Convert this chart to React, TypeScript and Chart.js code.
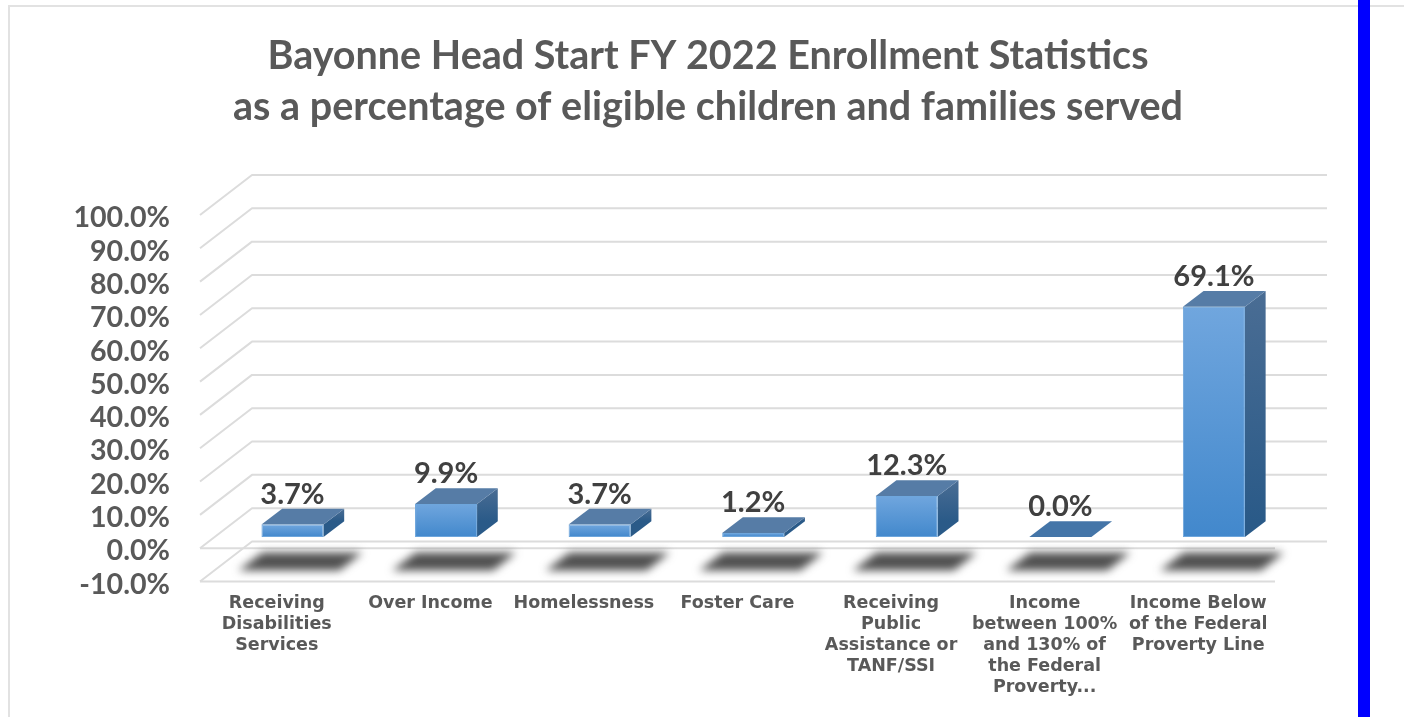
import React, { useEffect, useRef } from "react";
import { Chart, registerables } from "chart.js";

Chart.register(...registerables);

const titleLines = [
  "Bayonne Head Start FY 2022 Enrollment Statistics",
  "as a percentage of eligible children and families served",
];
const categories = [
  ["Receiving", "Disabilities", "Services"],
  ["Over Income"],
  ["Homelessness"],
  ["Foster Care"],
  ["Receiving", "Public", "Assistance or", "TANF/SSI"],
  ["Income", "between 100%", "and 130% of", "the Federal", "Proverty..."],
  ["Income Below", "of the Federal", "Proverty Line"],
];
const values = [3.7, 9.9, 3.7, 1.2, 12.3, 0.0, 69.1];
const axisMin = -10;
const axisMax = 100;
const axisStep = 10;

// plot geometry (styling only)
const WALL_DX = 52;
const WALL_DY = -40;
const BAR_DX = 15.7;
const BAR_DY = -11.3;
const BOX_DX = 20.7;
const BOX_DY = -15.7;
const GRID = "#dcdcdc";
const Y_LABEL_NUDGE = 3;

function verticalGradient(ctx: CanvasRenderingContext2D, y0: number, y1: number, c0: string, c1: string) {
  const g = ctx.createLinearGradient(0, y0, 0, Math.max(y1, y0 + 1));
  g.addColorStop(0, c0);
  g.addColorStop(1, c1);
  return g;
}

const scenePlugin = {
  id: "scene3d",
  beforeDatasetsDraw(chart: any) {
    const { ctx, chartArea, scales } = chart;
    const y = scales.y;
    const { left, right } = chartArea;

    // walls and floors
    ctx.save();
    ctx.strokeStyle = GRID;
    ctx.lineWidth = 2;
    ctx.lineJoin = "round";
    y.ticks.forEach((t: any) => {
      const py = y.getPixelForValue(t.value);
      ctx.beginPath();
      ctx.moveTo(left, py);
      ctx.lineTo(left + WALL_DX, py + WALL_DY);
      ctx.lineTo(right + WALL_DX, py + WALL_DY);
      ctx.stroke();
      if (t.value <= 0) {
        ctx.beginPath();
        ctx.moveTo(left, py);
        ctx.lineTo(right, py);
        ctx.stroke();
      }
    });
    ctx.restore();

    // floor shadows
    const meta = chart.getDatasetMeta(0);
    const floorY = y.getPixelForValue(axisMin);
    ctx.save();
    ctx.filter = "blur(4px)";
    ctx.fillStyle = "#505050";
    meta.data.forEach((bar: any) => {
      const cx = bar.x + BAR_DX;
      const t = floorY - 29;
      const b = floorY - 11;
      ctx.beginPath();
      ctx.moveTo(cx - 30, t);
      ctx.lineTo(cx + 70, t);
      ctx.lineTo(cx + 47, b);
      ctx.lineTo(cx - 54, b);
      ctx.closePath();
      ctx.fill();
    });
    ctx.restore();

    // move the bars onto their depth plane, add the top and side faces
    ctx.save();
    ctx.translate(BAR_DX, BAR_DY);
    meta.data.forEach((bar: any, i: number) => {
      const l = bar.x - bar.width / 2;
      const r = bar.x + bar.width / 2;
      const top = bar.y;
      const base = bar.base;
      if (values[i] > 0) {
        ctx.fillStyle = verticalGradient(ctx, top + BOX_DY, base + BOX_DY, "#4a6d94", "#2a5a88");
        ctx.beginPath();
        ctx.moveTo(r, top);
        ctx.lineTo(r + BOX_DX, top + BOX_DY);
        ctx.lineTo(r + BOX_DX, base + BOX_DY);
        ctx.lineTo(r, base);
        ctx.closePath();
        ctx.fill();
      }
      ctx.fillStyle = values[i] > 0 ? "#567ca6" : "#4475a8";
      ctx.beginPath();
      ctx.moveTo(l, top);
      ctx.lineTo(l + BOX_DX, top + BOX_DY);
      ctx.lineTo(r + BOX_DX, top + BOX_DY);
      ctx.lineTo(r, top);
      ctx.closePath();
      ctx.fill();
    });
  },
  afterDatasetsDraw(chart: any) {
    const { ctx } = chart;
    ctx.restore();
    const meta = chart.getDatasetMeta(0);
    ctx.save();
    ctx.font = "bold 29px Lato";
    ctx.fillStyle = "#404040";
    ctx.textAlign = "center";
    ctx.textBaseline = "middle";
    meta.data.forEach((bar: any, i: number) => {
      ctx.fillText(values[i].toFixed(1) + "%", bar.x + BAR_DX, bar.y + BAR_DY - 30);
    });
    ctx.restore();
  },
};

export default function App() {
  const ref = useRef<HTMLCanvasElement>(null);
  useEffect(() => {
    const chart = new Chart(ref.current!, {
      type: "bar",
      data: {
        labels: categories,
        datasets: [
          {
            label: "Enrollment",
            data: values,
            barPercentage: 0.404,
            categoryPercentage: 1,
            clip: false,
            borderWidth: 1,
            borderSkipped: false,
            borderColor: "#6ea6dc",
            backgroundColor: (c: any) => {
              const s = c.chart.scales.y;
              const v = c.parsed ? c.parsed.y : 0;
              if (!s || !v) return "#4475a8";
              const y0 = s.getPixelForValue(v);
              const y1 = s.getPixelForValue(0);
              if (!Number.isFinite(y0) || !Number.isFinite(y1)) return "#4288cc";
              return verticalGradient(c.chart.ctx, y0, y1, "#70a6de", "#4288cc");
            },
          },
        ],
      },
      options: {
        animation: false,
        responsive: false,
        layout: { padding: { left: 12, right: 0, top: 0, bottom: 0 } },
        plugins: {
          legend: { display: false },
          tooltip: { enabled: false },
          title: {
            display: true,
            text: titleLines,
            color: "#595959",
            font: { family: "Lato", size: 39.5, weight: "bold", lineHeight: 51 / 39.5 },
            padding: { top: 30.5, bottom: 82.5 },
          },
        },
        scales: {
          x: {
            grid: { display: false, drawTicks: false },
            border: { display: false },
            afterFit: (s: any) => {
              s.height = 135.5;
            },
            ticks: {
              autoSkip: false,
              maxRotation: 0,
              minRotation: 0,
              padding: 11,
              color: "#595959",
              font: { family: "DejaVu Sans", size: 17.5, weight: "bold", lineHeight: 21 / 17.5 },
            },
          },
          y: {
            min: axisMin,
            max: axisMax,
            grid: { display: false, drawTicks: false },
            border: { display: false },
            afterFit: (s: any) => {
              s.width = 188;
              if (!s.__nudged) {
                s.__nudged = true;
                const drawLabels = s.drawLabels.bind(s);
                s.drawLabels = (area: any) => {
                  s.ctx.save();
                  s.ctx.translate(0, Y_LABEL_NUDGE);
                  drawLabels(area);
                  s.ctx.restore();
                };
              }
            },
            ticks: {
              autoSkip: false,
              stepSize: axisStep,
              padding: 30,
              color: "#595959",
              font: { family: "Lato", size: 28.6, weight: "bold" },
              callback: (v: any) => Number(v).toFixed(1) + "%",
            },
          },
          yR: {
            position: "right",
            grid: { display: false, drawTicks: false },
            border: { display: false },
            ticks: { display: false },
            afterFit: (s: any) => {
              s.width = 129;
            },
          },
        },
      } as any,
      plugins: [scenePlugin],
    });
    return () => chart.destroy();
  }, []);

  return (
    <div style={{ position: "fixed", inset: 0, background: "#fff", overflow: "hidden" }}>
      <canvas ref={ref} width={1404} height={717} style={{ position: "absolute", left: 0, top: 0, display: "block" }} />
      <div style={{ position: "absolute", left: 8, top: 5, right: 0, height: 2, background: "#e2e2e2" }} />
      <div style={{ position: "absolute", left: 8, top: 5, bottom: 0, width: 2, background: "#e2e2e2" }} />
      <div style={{ position: "absolute", left: 1358, top: 0, bottom: 0, width: 12, background: "#0000ff" }} />
    </div>
  );
}
